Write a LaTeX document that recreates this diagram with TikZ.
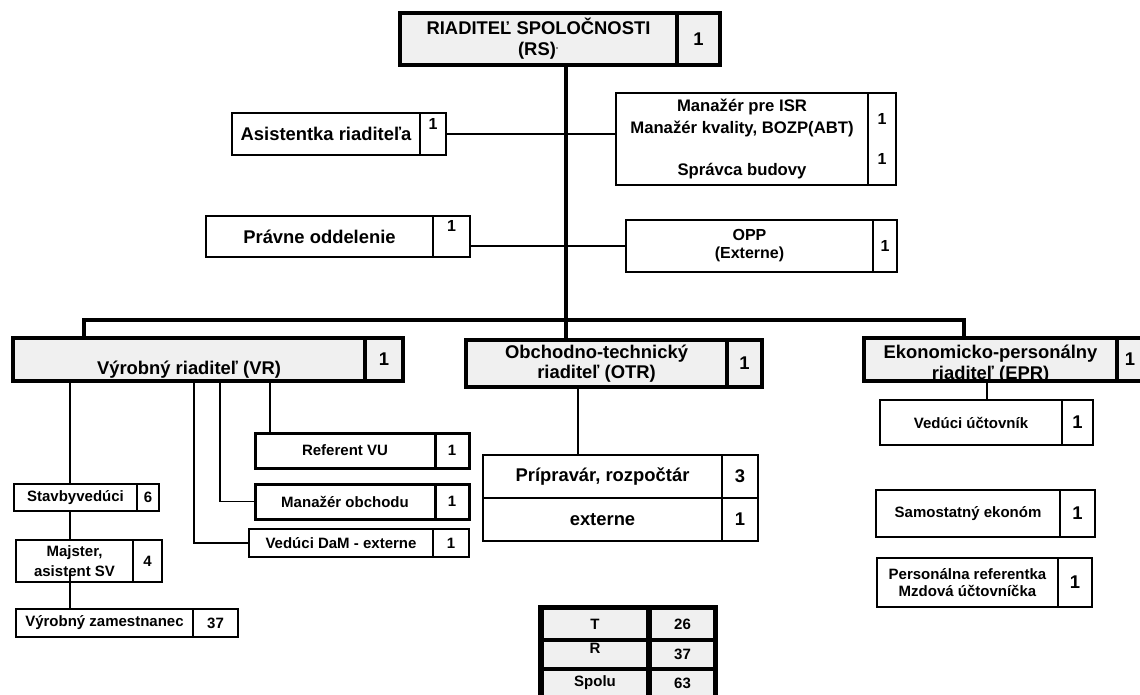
\documentclass[tikz,border=0pt]{standalone}
\usepackage{fontspec}
\setmainfont{Liberation Sans}
\definecolor{boxgray}{RGB}{240,240,240}
\newcommand\orgbox[7][]{\node[box,#1,minimum width={(#5-#3)*1pt},minimum height={(#6-#4)*1pt}] (#2) at (#3,#4) {#7};}
\newcommand\liftx[2]{\raisebox{#1}[0pt][0pt]{#2}}
\newcommand\liftst[2]{\raisebox{#1}[0pt][0pt]{\begin{tabular}[b]{@{}c@{}}#2\end{tabular}}}
\tikzset{
  box/.style={draw, inner sep=0pt, outer sep=0pt, anchor=north west, align=center, font=\bfseries\fontsize{18.4}{21}\selectfont},
  mid/.style={font=\bfseries\fontsize{16}{18}\selectfont},
  sm/.style={font=\bfseries\fontsize{15}{17}\selectfont},
  shade/.style={fill=boxgray},
  conn/.style={line width=1.5pt},
  trunk/.style={line width=4.5pt},
}
\begin{document}
\begin{tikzpicture}[x=1pt,y=-1pt]
\useasboundingbox[fill=white] (0,0) rectangle (1140,695);

% named junction coordinates
\coordinate (busL) at (84,320);
\coordinate (busM) at (566,320);
\coordinate (busR) at (964,320);
\coordinate (xStv) at (70,0);
\coordinate (xDam) at (194,0);
\coordinate (xMob) at (220,0);
\coordinate (xRef) at (270,0);
\coordinate (xPrp) at (578,0);
\coordinate (xVuc) at (987,0);

% top
\orgbox[line width=4pt,shade]{rs}{400}{13}{677}{65}{RIADITEĽ SPOLOČNOSTI\\(RS){\fontsize{9}{9}\selectfont\raisebox{4pt}{·}}}
\orgbox[line width=4pt,shade]{rsn}{677}{13}{720}{65}{1}

\orgbox[line width=2pt]{ast}{232}{113}{420}{155}{Asistentka riaditeľa}
\orgbox[line width=2pt,mid]{asn}{420}{113}{446}{155}{\liftx{4.3pt}{1}}

\orgbox[line width=2pt,font=\bfseries\fontsize{16.7}{18}\selectfont]{man}{616}{93}{868}{185}{Manažér pre ISR\\[4pt]Manažér kvality, BOZP(ABT)\\[24pt]Správca budovy}
\orgbox[line width=2pt,mid]{mann}{868}{93}{896}{185}{1\\[22pt]1}

\orgbox[line width=1.5pt]{prv}{206}{216}{433}{257}{Právne oddelenie}
\orgbox[line width=1.5pt,mid]{prn}{433}{216}{470}{257}{\liftx{4.8pt}{1}}

\orgbox[line width=2pt,mid]{opp}{626}{220}{873}{272}{OPP\\(Externe)}
\orgbox[line width=2pt,mid]{oppn}{873}{220}{897}{272}{1}

\draw[conn] (asn.east) -- (asn.east -| man.west);
\draw[conn] (opp.west -| prn.east) -- (opp.west);

% second level
\orgbox[line width=4pt,shade]{vr}{13}{338}{365}{381}{\liftx{-15pt}{Výrobný riaditeľ (VR)}}
\orgbox[line width=4pt,shade]{vrn}{365}{338}{403}{381}{1}

\orgbox[line width=3.5pt,shade,font=\bfseries\fontsize{18.4}{20}\selectfont]{otr}{466}{340}{727}{387}{Obchodno-technický\\riaditeľ (OTR)}
\orgbox[line width=3.5pt,shade]{otrn}{727}{340}{762}{387}{1}

\orgbox[line width=3.5pt,shade]{epr}{864}{338}{1117}{381}{\liftst{-20pt}{Ekonomicko-personálny\\riaditeľ (EPR)}}
\orgbox[line width=3.5pt,shade]{eprn}{1117}{338}{1143}{381}{1}
\draw[line width=3.5pt] (epr.south west) -- (epr.south east);

% trunk and bus
\draw[trunk] (busM |- rs.south) -- (busM |- otr.north);
\draw[trunk] (busL |- vr.north) -- (busL) -- (busR) -- (busR |- epr.north);

% VR branch
\orgbox[line width=3pt,sm]{ref}{255}{433}{435}{468}{Referent VU}
\orgbox[line width=3pt,sm]{refn}{435}{433}{469}{468}{1}
\orgbox[line width=3pt,sm]{mob}{255}{484}{435}{519}{Manažér obchodu}
\orgbox[line width=3pt,sm]{mobn}{435}{484}{469}{519}{1}
\orgbox[line width=1.8pt,sm]{dam}{249}{529}{433}{557}{Vedúci DaM - externe}
\orgbox[line width=1.8pt,sm]{damn}{433}{529}{469}{557}{1}
\orgbox[line width=2.5pt,sm]{stv}{14}{484}{137}{511}{Stavbyvedúci}
\orgbox[line width=2.5pt,sm]{stvn}{137}{484}{159}{511}{6}
\orgbox[line width=2pt,font=\bfseries\fontsize{15}{20}\selectfont]{maj}{16}{540}{133}{582}{Majster,\\asistent SV}
\orgbox[line width=2pt,sm]{majn}{133}{540}{162}{582}{4}
\orgbox[line width=2.5pt,sm]{vyz}{16}{609}{193}{637}{Výrobný zamestnanec}
\orgbox[line width=2.5pt,sm]{vyzn}{193}{609}{238}{637}{37}

\draw[conn] (vr.south -| xRef) -- (ref.north -| xRef);
\draw[conn] (vr.south -| xMob) -- (mob.west -| xMob) -- (mob.west);
\draw[conn] (vr.south -| xDam) -- (dam.west -| xDam) -- (dam.west);
\draw[conn] (vr.south -| xStv) -- (stv.north -| xStv);
\draw[conn] (stv.south -| xStv) -- (maj.north -| xStv);
\draw[conn] ([yshift=10pt]maj.south -| xStv) -- (vyz.north -| xStv);

% OTR branch
\orgbox[line width=2.5pt]{prp}{483}{455}{722}{498}{Prípravár, rozpočtár}
\orgbox[line width=2.5pt]{prpn}{722}{455}{758}{498}{3}
\orgbox[line width=2.5pt]{ext}{483}{498}{722}{541}{externe}
\orgbox[line width=2.5pt]{extn}{722}{498}{758}{541}{1}
\draw[conn] (otr.south -| xPrp) -- (prp.north -| xPrp);

% EPR branch
\orgbox[line width=2pt,sm]{vuc}{880}{400}{1062}{445}{Vedúci účtovník}
\orgbox[line width=2pt]{vucn}{1062}{400}{1093}{445}{1}
\orgbox[line width=2.5pt,sm]{sam}{876}{490}{1060}{537}{Samostatný ekonóm}
\orgbox[line width=2.5pt]{samn}{1060}{490}{1095}{537}{1}
\orgbox[line width=2.5pt,sm]{per}{877}{558}{1058}{607}{Personálna referentka\\Mzdová účtovníčka}
\orgbox[line width=2.5pt]{pern}{1058}{558}{1092}{607}{1}
\draw[conn] (epr.south -| xVuc) -- (vuc.north -| xVuc);

% summary table
\orgbox[draw=none,fill=black]{tab}{538}{605}{718}{700}{}
\orgbox[draw=none,shade,sm]{tT}{544}{610}{646}{638}{T}
\orgbox[draw=none,shade,sm]{tTn}{652}{610}{713}{638}{26}
\orgbox[draw=none,shade,sm]{tR}{544}{642}{646}{667}{\liftx{1pt}{R}}
\orgbox[draw=none,shade,sm]{tRn}{652}{642}{713}{667}{37}
\orgbox[draw=none,shade,sm]{tS}{544}{671}{646}{695}{Spolu}
\orgbox[draw=none,shade,sm]{tSn}{652}{671}{713}{695}{63}
\end{tikzpicture}
\end{document}
